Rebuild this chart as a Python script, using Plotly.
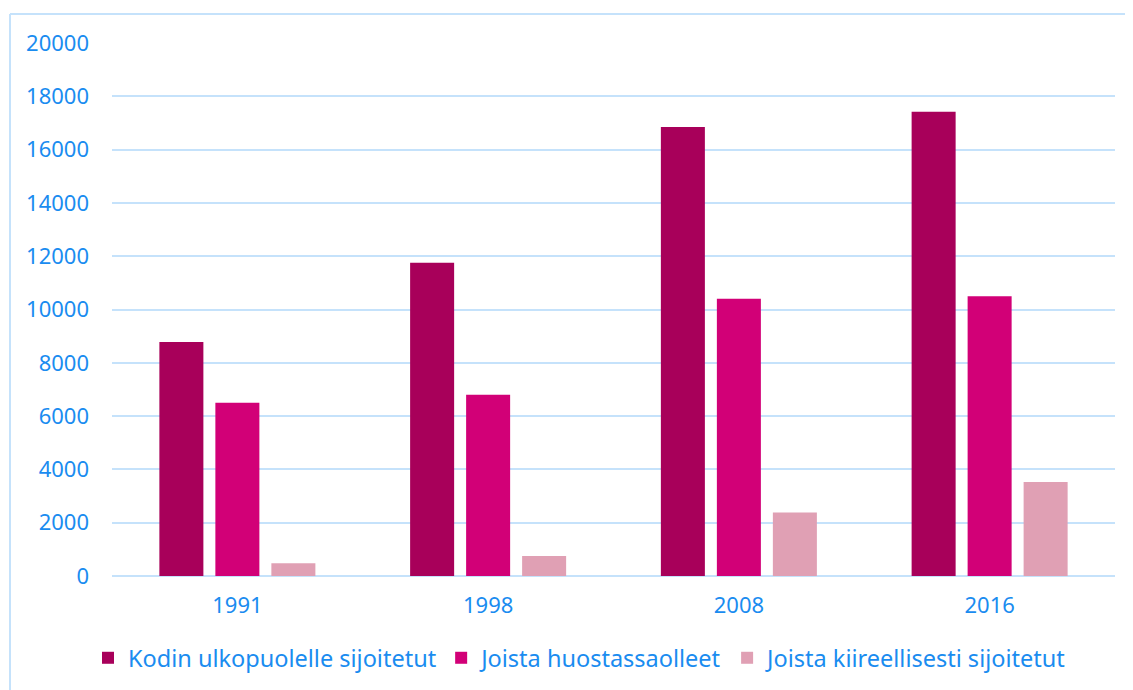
import plotly.graph_objects as go

years = ["1991", "1998", "2008", "2016"]
series_names = ["Kodin ulkopuolelle sijoitetut", "Joista huostassaolleet", "Joista kiireellisesti sijoitetut"]
kodin = [8780, 11750, 16850, 17420]
huostassa = [6500, 6800, 10400, 10500]
kiireelliset = [480, 750, 2380, 3530]
y_ticks = [0, 2000, 4000, 6000, 8000, 10000, 12000, 14000, 16000, 18000, 20000]
y_tick_text = [str(v) for v in y_ticks]

colors = ["#a8005a", "#d20077", "#e0a0b4"]
text_color = "#1a8cf0"
grid_color = "#c5e2fb"

fig = go.Figure()
for name, vals, c in zip(series_names, [kodin, huostassa, kiireelliset], colors):
    fig.add_trace(go.Bar(x=years, y=vals, name=name, marker=dict(color=c, line=dict(width=0))))

W, H = 1133, 690
OFF = 8  # page body margin
ml, mr, mt, mb = 112 - OFF, 18 + OFF, 43 - OFF, 114 + OFF
pw, ph = W - ml - mr, H - mt - mb

def px2paper_x(px):
    return (px - OFF - ml) / pw

def px2paper_y(py):
    return (H - mb - (py - OFF)) / ph

fig.update_layout(
    width=W, height=H,
    margin=dict(l=ml, r=mr, t=mt, b=mb),
    paper_bgcolor="white", plot_bgcolor="white",
    barmode="group", bargap=0.33, bargroupgap=0.214,
    font=dict(family="Noto Sans, DejaVu Sans, sans-serif", size=22, color=text_color),
    showlegend=True,
    legend=dict(orientation="h", x=px2paper_x(580), xanchor="center", y=px2paper_y(658), yanchor="middle",
                font=dict(size=23.5, color=text_color), itemwidth=30, traceorder="normal",
                tracegroupgap=0),
    xaxis=dict(showgrid=False, showline=False, ticks="", ticklabelstandoff=14,
               tickfont=dict(size=22, color=text_color)),
    yaxis=dict(range=[0, 20000], tickvals=y_ticks, ticktext=y_tick_text, showgrid=True,
               gridcolor=grid_color, gridwidth=2,
               zeroline=True, zerolinecolor=grid_color, zerolinewidth=2, showline=False,
               ticks="", ticklabelstandoff=22, tickfont=dict(size=22, color=text_color)),
    shapes=[
        dict(type="line", xref="paper", yref="paper", x0=px2paper_x(10), x1=px2paper_x(1145),
             y0=px2paper_y(14), y1=px2paper_y(14), line=dict(color=grid_color, width=2)),
        dict(type="line", xref="paper", yref="paper", x0=px2paper_x(10), x1=px2paper_x(10),
             y0=px2paper_y(14), y1=px2paper_y(705), line=dict(color=grid_color, width=2)),
    ],
)

fig.write_html("out.html")
